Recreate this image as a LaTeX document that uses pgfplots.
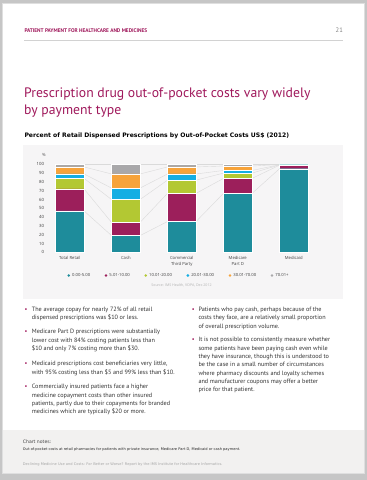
\documentclass[border=0pt]{standalone}
\usepackage{fontspec}
\setmainfont{PT Sans}
\newfontfamily\dvs{DejaVu Sans}
\newfontfamily\os{Open Sans}
\usepackage{pgfplots}
\pgfplotsset{compat=1.18}
\definecolor{imsmag}{HTML}{A0195C}
\definecolor{bodytxt}{HTML}{333333}
\definecolor{panelbg}{HTML}{F6F5F6}
\definecolor{bottombg}{HTML}{F2F1F0}
\definecolor{cA}{HTML}{1E8C9B}
\definecolor{cB}{HTML}{9C1F5B}
\definecolor{cC}{HTML}{B3C833}
\definecolor{cD}{HTML}{15AEE3}
\definecolor{cE}{HTML}{F7A33A}
\definecolor{cF}{HTML}{A9A8AA}
\definecolor{conn}{HTML}{DADADA}
\newcommand\TL[3]{\node[anchor=base west,inner sep=0pt] at (#1,#2) {#3};}
\newcommand\BU[2]{\node[anchor=base,inner sep=0pt,text=imsmag] at (#1,#2) {\textbullet};}
\pgfplotsset{
  chartgeom/.style={
    at={(41.8pt,227.7pt)}, anchor=south west, scale only axis,
    width=280pt, height=88pt, xmin=-0.5, xmax=4.5, ymin=0, ymax=100, clip=false},
  dotleg/.style={legend image code/.code={\fill[##1,draw=none] (0pt,0.55pt) circle (1.4pt);}}
}
\begin{document}
\begin{tikzpicture}
\fill[gray!45] (0,0) rectangle (367pt,480pt);
\begin{scope}[x=1pt,y=-1pt,yshift=480pt]
\fill[gray!25] (2,3) rectangle (365,474);
\fill[white] (3,4) rectangle (364,473);
\fill[bottombg] (3,430) rectangle (364,473);
\fill[panelbg] (23.3,145) rectangle (342.7,299);
\draw[gray!35, line width=0.5pt] (24,40) -- (343,40);
\node[anchor=base west, inner sep=0, font=\fontsize{5.3}{6}\selectfont\bfseries, text=imsmag] at (24.3,33) {PATIENT PAYMENT FOR HEALTHCARE AND MEDICINES};
\node[anchor=base east, inner sep=0, font=\fontsize{6.5}{7}\selectfont, text=gray] at (343,33) {21};
\node[anchor=base west, inner sep=0, font=\fontsize{13.7}{15}\selectfont, text=imsmag] at (24,98) {Prescription drug out-of-pocket costs vary widely};
\node[anchor=base west, inner sep=0, font=\fontsize{13.7}{15}\selectfont, text=imsmag] at (24,115) {by payment type};
\node[anchor=base west, inner sep=0, font=\fontsize{6.1}{7}\selectfont\dvs\bfseries, text=black] at (24.3,137.5) {Percent of Retail Dispensed Prescriptions by Out-of-Pocket Costs US\$ (2012)};
\node[anchor=base, inner sep=0, font=\fontsize{4.3}{5}\selectfont\os, text=black!70] at (44,156.5) {\%};
\node[anchor=base, inner sep=0, font=\fontsize{3.6}{4}\selectfont\os, text=black!30] at (181.5,286.3) {Source: IMS Health, VOPA, Dec 2012};
\begin{scope}[every node/.style={font=\fontsize{6.2}{8}\selectfont, text=bodytxt}]
\BU{26}{311.6}\TL{31.7}{311.6}{The average copay for nearly 72\% of all retail}
\TL{31.7}{319.9}{dispensed prescriptions was \$10 or less.}
\BU{26}{333.9}\TL{31.7}{333.9}{Medicare Part D prescriptions were substantially}
\TL{31.7}{342.3}{lower cost with 84\% costing patients less than}
\TL{31.7}{350.6}{\$10 and only 7\% costing more than \$30.}
\BU{26}{366.0}\TL{31.7}{366.0}{Medicaid prescriptions cost beneficiaries very little,}
\TL{31.7}{374.3}{with 95\% costing less than \$5 and 99\% less than \$10.}
\BU{26}{389.0}\TL{31.7}{389.0}{Commercially insured patients face a higher}
\TL{31.7}{397.3}{medicine copayment costs than other insured}
\TL{31.7}{405.7}{patients, partly due to their copayments for branded}
\TL{31.7}{414.0}{medicines which are typically \$20 or more.}
\BU{193.3}{311.6}\TL{198.3}{311.6}{Patients who pay cash, perhaps because of the}
\TL{198.3}{319.9}{costs they face, are a relatively small proportion}
\TL{198.3}{328.3}{of overall prescription volume.}
\BU{193.3}{341.8}\TL{198.3}{341.8}{It is not possible to consistently measure whether}
\TL{198.3}{350.1}{some patients have been paying cash even while}
\TL{198.3}{358.5}{they have insurance, though this is understood to}
\TL{198.3}{366.8}{be the case in a small number of circumstances}
\TL{198.3}{375.2}{where pharmacy discounts and loyalty schemes}
\TL{198.3}{383.5}{and manufacturer coupons may offer a better}
\TL{198.3}{391.9}{price for that patient.}
\end{scope}
\node[anchor=base west, inner sep=0, font=\fontsize{4.6}{5}\selectfont\dvs, text=black!75] at (22.7,443.8) {Chart notes:};
\node[anchor=base west, inner sep=0, font=\fontsize{3.6}{4}\selectfont\dvs, text=black!85] at (22.7,451) {Out-of-pocket costs at retail pharmacies for patients with private insurance, Medicare Part D, Medicaid or cash payment.};
\node[anchor=base west, inner sep=0, font=\fontsize{3.6}{4}\selectfont\dvs, text=black!35] at (22.7,465) {Declining Medicine Use and Costs: For Better or Worse? Report by the IMS Institute for Healthcare Informatics.};
\end{scope}

% connector lines
\begin{axis}[chartgeom, hide axis]
\addplot[conn, line width=0.4pt] coordinates {(-0.255,47) (0.255,47) (0.745,19) (1.255,19) (1.745,35) (2.255,35) (2.745,67) (3.255,67) (3.745,95) (4.255,95)};
\addplot[conn, line width=0.4pt] coordinates {(-0.255,72) (0.255,72) (0.745,34) (1.255,34) (1.745,67) (2.255,67) (2.745,84) (3.255,84) (3.745,99) (4.255,99)};
\addplot[conn, line width=0.4pt] coordinates {(-0.255,84) (0.255,84) (0.745,60) (1.255,60) (1.745,82) (2.255,82) (2.745,90) (3.255,90) (3.745,99.3) (4.255,99.3)};
\addplot[conn, line width=0.4pt] coordinates {(-0.255,89) (0.255,89) (0.745,73) (1.255,73) (1.745,89) (2.255,89) (2.745,93) (3.255,93) (3.745,99.5) (4.255,99.5)};
\addplot[conn, line width=0.4pt] coordinates {(-0.255,97) (0.255,97) (0.745,89) (1.255,89) (1.745,97) (2.255,97) (2.745,98) (3.255,98) (3.745,99.8) (4.255,99.8)};
\addplot[conn, line width=0.4pt] coordinates {(-0.255,100) (0.255,100) (0.745,100) (1.255,100) (1.745,100) (2.255,100) (2.745,100) (3.255,100) (3.745,100) (4.255,100)};
\end{axis}

% bars
\begin{axis}[chartgeom, ybar stacked, bar width=28.5pt,
  axis line style={draw=none}, major tick length=0pt,
  ytick={0,10,...,100},
  xtick={0,1,2,3,4},
  xticklabels={Total Retail, Cash, {Commercial\\Third Party}, {Medicare\\Part D}, Medicaid},
  xticklabel style={align=center, font=\fontsize{4.2}{6.2}\selectfont\os, text=black!75, inner sep=0pt, yshift=-4pt},
  /pgf/number format/assume math mode=true,
  yticklabel style={font=\fontsize{4.3}{5}\selectfont\os, text=black!75, inner sep=0pt, anchor=east, xshift=2.5pt},
  legend columns=6,
  legend style={draw=none, fill=none, at={(0.49,-0.27)}, anchor=center,
    font=\fontsize{4.2}{5}\selectfont\os, text=black!75,
    /tikz/every even column/.append style={column sep=12.5pt}},
]
\addplot[fill=cA, draw=white, line width=0.3pt, dotleg] coordinates {(0,47) (1,19) (2,35) (3,67) (4,95)};
\addplot[fill=cB, draw=white, line width=0.3pt, dotleg] coordinates {(0,25) (1,15) (2,32) (3,17) (4,4)};
\addplot[fill=cC, draw=white, line width=0.3pt, dotleg] coordinates {(0,12) (1,26) (2,15) (3,6) (4,0.3)};
\addplot[fill=cD, draw=white, line width=0.3pt, dotleg] coordinates {(0,5) (1,13) (2,7) (3,3) (4,0.2)};
\addplot[fill=cE, draw=white, line width=0.3pt, dotleg] coordinates {(0,8) (1,16) (2,8) (3,5) (4,0.3)};
\addplot[fill=cF, draw=white, line width=0.3pt, dotleg] coordinates {(0,3) (1,11) (2,3) (3,2) (4,0.2)};
\legend{0.00-5.00, 5.01-10.00, 10.01-20.00, 20.01-30.00, 30.01-70.00, 70.01+}
\end{axis}
\end{tikzpicture}
\end{document}
